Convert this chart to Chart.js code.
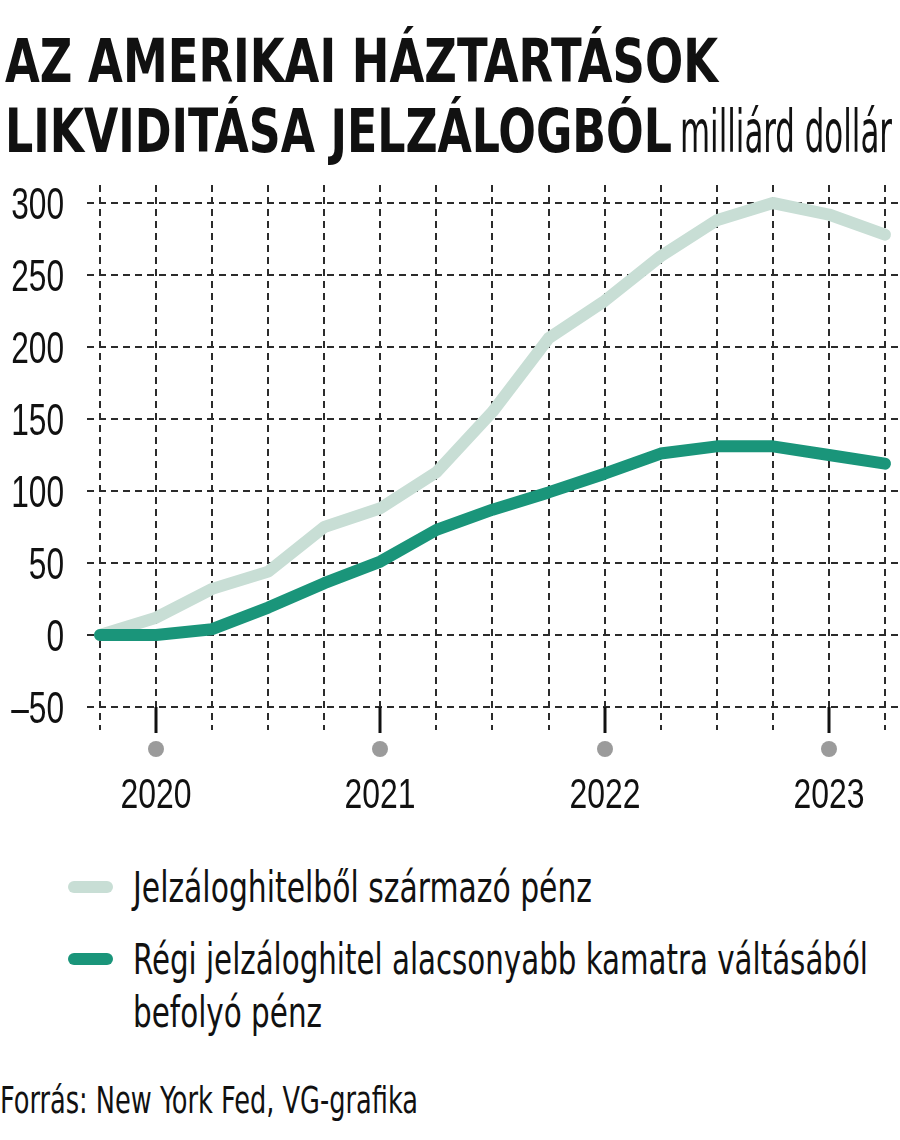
<!DOCTYPE html>
<html>
<head>
<meta charset="utf-8">
<script src="https://cdn.jsdelivr.net/npm/chart.js@4/dist/chart.umd.min.js"></script>
<style>
  html, body { margin: 0; padding: 0; background: #fff; }
  #page { position: relative; width: 900px; height: 1140px; overflow: hidden; }
  #chartBox { position: absolute; left: 0; top: 0; width: 900px; height: 830px; }
  .txt { position: absolute; white-space: nowrap; color: #111; transform-origin: 0 0;
         font-family: "DejaVu Sans Condensed", "DejaVu Sans", sans-serif; }
  .swatch { position: absolute; left: 68px; width: 45px; height: 12px; border-radius: 6px; }
</style>
</head>
<body>
<div id="page">
  <div id="chartBox"><canvas id="chart" width="900" height="830"></canvas></div>
  <div class="txt" id="t1" style="font-weight:bold">AZ AMERIKAI HÁZTARTÁSOK</div>
  <div class="txt" id="t2" style="font-weight:bold">LIKVIDITÁSA JELZÁLOGBÓL</div>
  <div class="txt" id="t3">milliárd dollár</div>
  <div class="swatch" style="top:881px; background:#c8ded5"></div>
  <div class="swatch" style="top:953px; background:#1a957a"></div>
  <div class="txt" id="l1">Jelzáloghitelből származó pénz</div>
  <div class="txt" id="l2">Régi jelzáloghitel alacsonyabb kamatra váltásából</div>
  <div class="txt" id="l3">befolyó pénz</div>
  <div class="txt" id="src">Forrás: New York Fed, VG-grafika</div>
</div>
<script>
// negyedéves adatok, milliárd dollár
const quarters = ['2019 Q4', '2020 Q1', '2020 Q2', '2020 Q3', '2020 Q4',
                  '2021 Q1', '2021 Q2', '2021 Q3', '2021 Q4',
                  '2022 Q1', '2022 Q2', '2022 Q3', '2022 Q4',
                  '2023 Q1', '2023 Q2'];
const cashOutValues = [0, 12, 32, 44, 75, 88, 113, 155, 206, 232, 263, 288, 300, 292, 278];
const refiValues = [0, 0, 4, 19, 36, 51, 73, 87, 99, 112, 126, 131, 131, 125, 119];
const yTicks = [-50, 0, 50, 100, 150, 200, 250, 300];
const seriesNames = ['Jelzáloghitelből származó pénz',
                     'Régi jelzáloghitel alacsonyabb kamatra váltásából befolyó pénz'];

const tickFont = '"Liberation Sans", Arial, sans-serif';

// tengelyfeliratok keskenyített betűvel (a skála saját tick-értékeiből)
const narrowTicks = {
    id: 'narrowTicks',
    afterDraw(chart) {
        const ctx = chart.ctx;
        const xs = chart.scales.x, ys = chart.scales.y;
        const area = chart.chartArea;
        ctx.save();
        ctx.fillStyle = '#111';
        // y tengely
        ctx.font = '44px ' + tickFont;
        ctx.textAlign = 'right';
        ctx.textBaseline = 'alphabetic';
        ys.ticks.forEach(t => {
            const label = String(t.value).replace('-', '\u2013');
            const y = ys.getPixelForValue(t.value);
            ctx.save();
            ctx.translate(64, y + 16);
            ctx.scale(0.72, 1);
            ctx.fillText(label, 0, 0);
            ctx.restore();
        });
        // évszámok, pálcika, pötty
        ctx.font = '42px ' + tickFont;
        ctx.textAlign = 'center';
        xs.ticks.forEach(t => {
            const q = quarters[t.value];
            if (!q || !q.endsWith('Q1')) return;
            const x = Math.round(xs.getPixelForValue(t.value));
            ctx.strokeStyle = '#111';
            ctx.lineWidth = 3;
            ctx.beginPath();
            ctx.moveTo(x, ys.getPixelForValue(-50));
            ctx.lineTo(x, area.bottom + 3);
            ctx.stroke();
            ctx.fillStyle = '#9b9b9b';
            ctx.beginPath();
            ctx.arc(x, area.bottom + 19, 8, 0, Math.PI * 2);
            ctx.fill();
            ctx.fillStyle = '#111';
            ctx.save();
            ctx.translate(x, area.bottom + 78);
            ctx.scale(0.76, 1);
            ctx.fillText(q.slice(0, 4), 0, 0);
            ctx.restore();
        });
        ctx.restore();
    }
};

new Chart(document.getElementById('chart'), {
    type: 'line',
    data: {
        datasets: [{
            label: seriesNames[0],
            data: cashOutValues.map((v, i) => ({ x: i, y: v })),
            borderColor: '#c8ded5',
            borderWidth: 12,
            order: 2
        }, {
            label: seriesNames[1],
            data: refiValues.map((v, i) => ({ x: i, y: v })),
            borderColor: '#1a957a',
            borderWidth: 12,
            order: 1
        }]
    },
    options: {
        responsive: false,
        animation: false,
        layout: { autoPadding: false, padding: { top: 185, left: 0, right: 0, bottom: 0 } },
        elements: {
            point: { radius: 0 },
            line: { tension: 0, borderCapStyle: 'round', borderJoinStyle: 'round' }
        },
        scales: {
            x: {
                type: 'linear',
                min: -0.232,
                max: 14.268,
                afterBuildTicks: s => { s.ticks = quarters.map((q, i) => ({ value: i })); },
                afterFit: s => { s.height = 100; s.paddingLeft = 0; s.paddingRight = 0; },
                grid: { color: '#2b2b2b', lineWidth: 2, drawTicks: false },
                border: { display: false, dash: [7, 5] },
                ticks: { display: false }
            },
            y: {
                min: -66,
                max: 312.5,
                afterBuildTicks: s => { s.ticks = yTicks.map(v => ({ value: v })); },
                afterFit: s => { s.width = 87; s.paddingTop = 0; s.paddingBottom = 0; },
                grid: { color: '#2b2b2b', lineWidth: 2, drawTicks: false },
                border: { display: false, dash: [7, 5] },
                ticks: { display: false }
            }
        },
        plugins: {
            legend: { display: false },
            tooltip: { enabled: false }
        }
    },
    plugins: [narrowTicks]
});

// szövegek elhelyezése: bal szél, alapvonal, kívánt szélesség
function place(id, size, x, baseline, width) {
    const el = document.getElementById(id);
    el.style.fontSize = size + 'px';
    el.style.lineHeight = size + 'px';
    el.style.left = x + 'px';
    el.style.top = (baseline - 0.846 * size) + 'px';
    const w = el.getBoundingClientRect().width;
    el.style.transform = 'scaleX(' + (width / w) + ')';
}
place('t1', 61, 5, 82, 713);
place('t2', 61, 5, 152, 667);
place('t3', 58, 680, 152, 212);
place('l1', 42, 133, 903, 459);
place('l2', 42, 133, 975, 735);
place('l3', 42, 133, 1028, 189);
place('src', 38, 0, 1113, 418);
</script>
</body>
</html>
